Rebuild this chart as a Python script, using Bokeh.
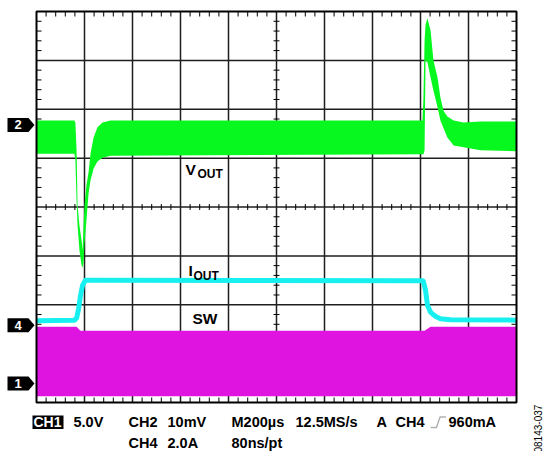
import numpy as np
from bokeh.plotting import figure
from bokeh.models import Range1d, Label, PolyAnnotation
from bokeh.embed import file_html
from bokeh.resources import INLINE

# ---------------- scope settings ----------------
T_PER_DIV = 200.0        # µs / div
N_XDIV, N_YDIV = 10, 8
CH1_V_PER_DIV = 5.0      # SW        (V / div)
CH2_MV_PER_DIV = 10.0    # VOUT (AC) (mV / div)
CH4_A_PER_DIV = 2.0      # IOUT      (A / div)
CH1_POS = -3.61          # channel ground markers, div from screen centre
CH2_POS = 1.68
CH4_POS = -2.42

# ---------------- V_OUT (CH2) noise envelope: time µs, mV ----------------
vout_t = [-1000, -842, -838, -833, -829, -821, -812, -808, -804, -800, -792, -783,
          -775, -762, -746, -725, -692, 608, 612, 617, 621, 629, 642, 654, 671, 683,
          696, 712, 738, 779, 850, 1000]
vout_top = [0.9, 0.9, 0.5, -5.2, -16.5, -20.6, -23.7, -25.7, -20.6, -16.5, -12.4, -9.7,
            -5.9, -2.6, -0.5, 0.5, 0.9, 0.9, 5.0, 17.3, 20.5, 21.8, 19.3, 13.2, 9.7, 5.6,
            2.9, 1.7, 0.9, 0.5, 0.7, 0.7]
vout_bot = [-5.9, -5.9, -7.3, -15.5, -20.6, -25.7, -28.8, -29.2, -28.2, -24.3, -19.6, -14.0,
            -11.4, -8.9, -7.5, -6.7, -6.3, -6.0, -6.0, -5.2, 13.2, 12.8, 9.7, 7.0, 3.6, 0.9,
            -0.7, -2.6, -4.2, -4.6, -5.2, -5.4]

# ---------------- I_OUT (CH4): time µs, A ----------------
iout_t = [-1000, -842, -833, -825, -817, -808, -796, -733, 608, 612, 621, 629, 642, 662,
          683, 725, 1000]
iout_a = [0.19, 0.21, 0.29, 0.66, 1.19, 1.64, 1.84, 1.84, 1.82, 1.80, 1.43, 0.82, 0.53,
          0.37, 0.27, 0.23, 0.21]

# ---------------- SW (CH1) switching envelope: time µs, V ----------------
sw_t = [-1000, -833, -817, 617, 642, 1000]
sw_top = [5.8, 5.8, 5.4, 5.4, 5.8, 5.8]
sw_bot = [-1.3, -1.3, -1.3, -1.3, -1.3, -1.3]

# ---------------- texts ----------------
trace_names = ["V", "OUT", "I", "OUT", "SW"]
readout_row1 = ["5.0V", "CH2", "10mV", "M200µs", "12.5MS/s", "A", "CH4", "960mA"]
readout_row2 = ["CH4", "2.0A", "80ns/pt"]
figure_id = "08143-037"

GREEN = "#06F81E"
CYAN = "#18F0F0"
MAGENTA = "#E014E0"
FONT = "Liberation Sans"

# ---------------- layout (canvas pixels) ----------------
W, H = 543, 451
SL, ST, SW_, SH = 36, 11, 480, 391     # screen (graticule) box
XHALF = N_XDIV / 2 * T_PER_DIV
YHALF = N_YDIV / 2


def X(px):  # canvas pixel -> data x
    return -XHALF + (px - SL) / SW_ * 2 * XHALF


def Y(py):
    return YHALF - (py - ST) / SH * 2 * YHALF


p = figure(width=W, height=H, x_range=Range1d(X(0), X(W)), y_range=Range1d(Y(H), Y(0)),
           x_axis_location=None, y_axis_location=None, toolbar_location=None,
           output_backend="svg", title=None,
           min_border_left=0, min_border_right=0, min_border_top=0, min_border_bottom=0)
p.outline_line_color = None
p.background_fill_color = "white"
p.border_fill_color = "white"
p.xgrid.visible = False
p.ygrid.visible = False

# graticule
xt = np.array([i * T_PER_DIV for i in range(-N_XDIV // 2 + 1, N_XDIV // 2)])
yt = np.array([float(i) for i in range(-N_YDIV // 2 + 1, N_YDIV // 2)])
p.segment(xt, -YHALF, xt, YHALF, line_color="#1e1e1e", line_width=1.5)
p.segment(-XHALF, yt, XHALF, yt, line_color="#1e1e1e", line_width=1.5)

# minor ticks (5 per division)
xm = np.array([-XHALF + k * T_PER_DIV / 5 for k in range(1, N_XDIV * 5) if k % 5])
ym = np.array([-YHALF + k * 0.2 for k in range(1, N_YDIV * 5) if k % 5])
lx = 5 / SW_ * 2 * XHALF
ly = 5 / SH * 2 * YHALF
cx = 3 / SW_ * 2 * XHALF
cy = 3 / SH * 2 * YHALF
tk = dict(line_color="black", line_width=1)
p.segment(xm, YHALF, xm, YHALF - ly, **tk)
p.segment(xm, -YHALF, xm, -YHALF + ly, **tk)
p.segment(xm, -cy, xm, cy, **tk)
p.segment(-XHALF, ym, -XHALF + lx, ym, **tk)
p.segment(XHALF, ym, XHALF - lx, ym, **tk)
p.segment(-cx, ym, cx, ym, **tk)

# traces
p.varea(x=sw_t, y1=CH1_POS + np.array(sw_bot) / CH1_V_PER_DIV,
        y2=CH1_POS + np.array(sw_top) / CH1_V_PER_DIV, color=MAGENTA)
p.line(iout_t, CH4_POS + np.array(iout_a) / CH4_A_PER_DIV, line_color=CYAN, line_width=5,
       line_join="round")
p.varea(x=vout_t, y1=CH2_POS + np.array(vout_bot) / CH2_MV_PER_DIV,
        y2=CH2_POS + np.array(vout_top) / CH2_MV_PER_DIV, color=GREEN)

# screen border
p.quad(left=-XHALF, right=XHALF, bottom=-YHALF, top=YHALF, fill_color=None,
       line_color="black", line_width=2)

# trace labels (y = cap-height centre)
bold = dict(text_font=FONT, text_font_style="bold", text_color="black", text_baseline="middle")
p.add_layout(Label(x=X(185), y=Y(169), text=trace_names[0], text_font_size="15.5px", **bold))
p.add_layout(Label(x=X(197), y=Y(173.5), text=trace_names[1], text_font_size="12px", **bold))
p.add_layout(Label(x=X(188), y=Y(270), text=trace_names[2], text_font_size="15.5px", **bold))
p.add_layout(Label(x=X(193), y=Y(275.5), text=trace_names[3], text_font_size="12px", **bold))
p.add_layout(Label(x=X(192), y=Y(317.5), text=trace_names[4], text_font_size="15.5px", **bold))

# channel markers
hh = 7 / SH * 2 * YHALF
for name, pos in (("2", CH2_POS), ("4", CH4_POS), ("1", CH1_POS)):
    p.add_layout(PolyAnnotation(xs=[X(7), X(28), X(34), X(28), X(7)],
                                ys=[pos + hh, pos + hh, pos, pos - hh, pos - hh],
                                fill_color="black", fill_alpha=1, line_color=None))
    p.add_layout(Label(x=X(17.5), y=pos, text=name, text_align="center", text_baseline="middle",
                       text_color="white", text_font=FONT, text_font_style="bold",
                       text_font_size="13px"))

# readout
C1, C2 = 421.5, 442
p.add_layout(PolyAnnotation(xs=[X(32), X(63), X(63), X(32)], ys=[Y(415), Y(415), Y(428.5), Y(428.5)],
                            fill_color="black", fill_alpha=1, line_color=None))
p.add_layout(Label(x=X(33), y=Y(C1), text="CH1", text_color="white", text_font=FONT,
                   text_font_style="bold", text_font_size="14px", text_baseline="middle"))
row1_x = [73, 128, 167, 231, 295, 376, 395, 448]
row2_x = [128, 167, 231]
for txt, px in zip(readout_row1, row1_x):
    p.add_layout(Label(x=X(px), y=Y(C1), text=txt, text_font_size="14.5px", **bold))
for txt, px in zip(readout_row2, row2_x):
    p.add_layout(Label(x=X(px), y=Y(C2), text=txt, text_font_size="14.5px", **bold))
# rising-edge trigger symbol
sx = [X(430), X(436), X(439.5), X(445.5), X(439.5), X(436)]
sy = [Y(427), Y(427), Y(416.5), Y(416.5), Y(416.5), Y(427)]
p.add_layout(PolyAnnotation(xs=sx, ys=sy, fill_alpha=0, line_color="black", line_width=1.5))

p.add_layout(Label(x=X(537), y=Y(452), text=figure_id, angle=90, angle_units="deg",
                   text_font=FONT, text_font_size="10px", text_color="black",
                   text_baseline="middle", text_align="left"))

open("out.html", "w").write(file_html(p, INLINE))
